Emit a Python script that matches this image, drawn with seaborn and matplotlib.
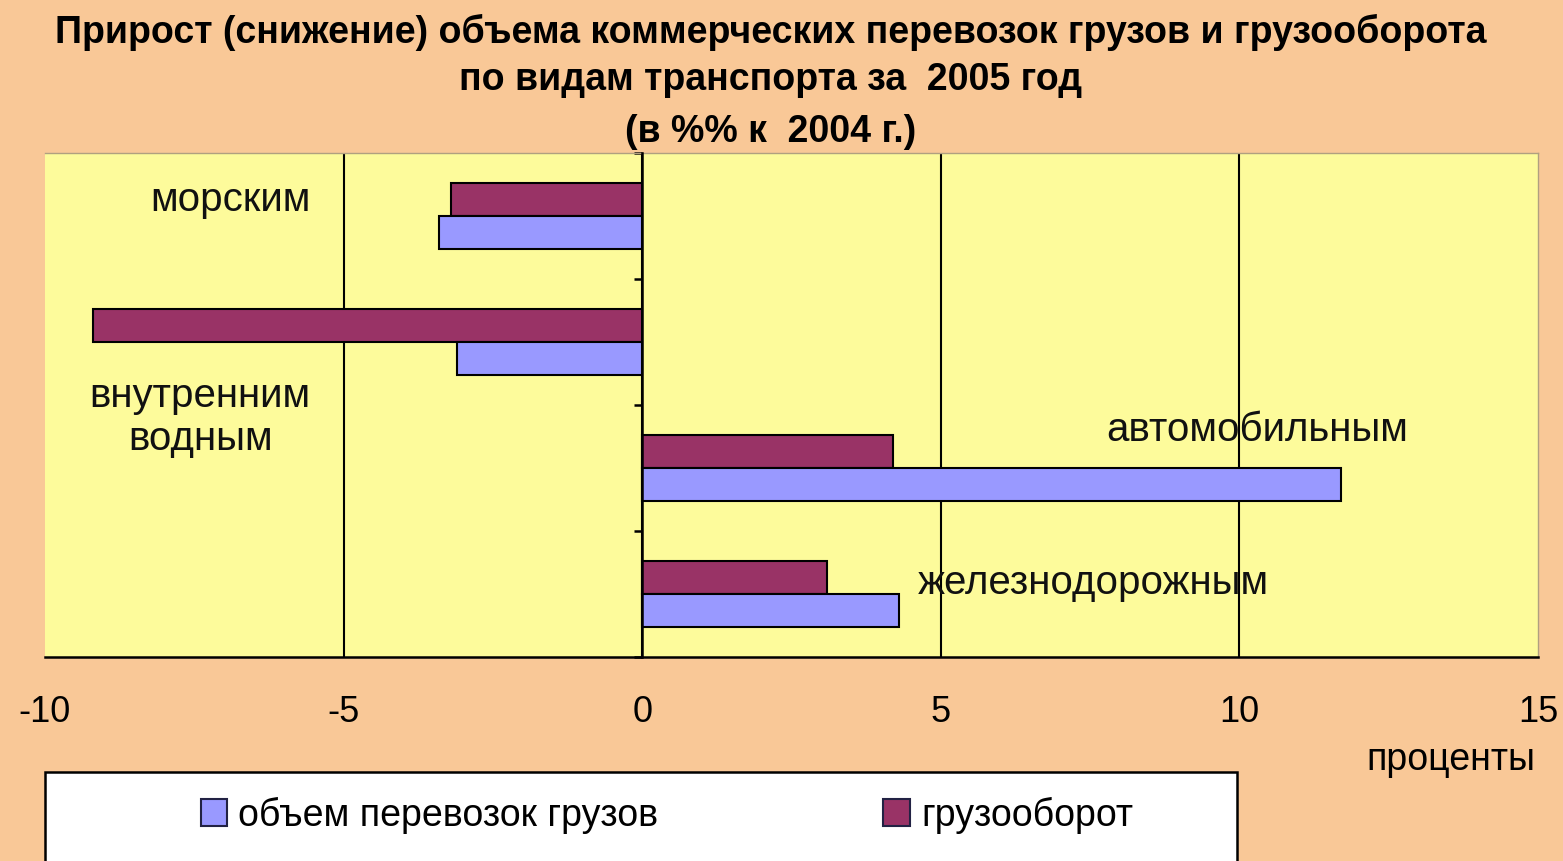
import pandas as pd
import matplotlib.pyplot as plt
import seaborn as sns
from matplotlib.patches import Patch, Rectangle

# Data (percent change 2005 vs 2004)
transport = ['морским', 'внутренним водным', 'автомобильным', 'железнодорожным']
volume = [-3.4, -3.1, 11.7, 4.3]      # объем перевозок грузов
turnover = [-3.2, -9.2, 4.2, 3.1]     # грузооборот
series_names = ['объем перевозок грузов', 'грузооборот']
xticks = [-10, -5, 0, 5, 10, 15]

colors = {'объем перевозок грузов': '#9999FF', 'грузооборот': '#993366'}
fig_bg = '#F9C897'
plot_bg = '#FDFB9B'

df = pd.DataFrame({
    'transport': transport * 2,
    'series': [series_names[0]] * 4 + [series_names[1]] * 4,
    'value': volume + turnover,
})

sns.set_style('white')
plt.rcParams['font.family'] = ['Liberation Sans', 'DejaVu Sans']
plt.rcParams['text.color'] = 'black'
plt.rcParams['xtick.color'] = 'black'
plt.rcParams['ytick.color'] = 'black'

fig = plt.figure(figsize=(15.63, 8.61), dpi=100, facecolor=fig_bg)
ax = fig.add_axes([45 / 1563, 1 - 657 / 861, (1538 - 45) / 1563, (657 - 153) / 861])
ax.set_facecolor(plot_bg)

sns.barplot(data=df, x='value', y='transport', hue='series',
            order=transport, hue_order=['грузооборот', 'объем перевозок грузов'],
            palette=colors, saturation=1, width=0.53, edgecolor='black', linewidth=1.5,
            legend=False, ax=ax, zorder=3)

ax.set_xlim(-10, 15)
ax.set_ylim(3.5, -0.5)
ax.set_xticks(xticks)
ax.set_xticklabels([str(t) for t in xticks], fontsize=26)
ax.set_yticks([-0.5, 0.5, 1.5, 2.5, 3.5])
ax.set_yticklabels([])
ax.set_xlabel('')
ax.set_ylabel('')

# vertical gridlines
ax.grid(axis='x', color='black', linewidth=1.5, zorder=1)
ax.grid(axis='y', visible=False)
gl = ax.get_xgridlines()
gl[0].set_visible(False)
gl[-1].set_visible(False)

ax.spines['left'].set_position(('data', 0))
ax.spines['left'].set_color('black')
ax.spines['left'].set_linewidth(1.8)
ax.spines['left'].set_zorder(4)
ax.spines['bottom'].set_color('black')
ax.spines['bottom'].set_linewidth(1.8)
for s in ['top', 'right']:
    ax.spines[s].set_color('#B0A080')
    ax.spines[s].set_linewidth(1)

ax.tick_params(axis='x', direction='out', length=9, width=1.8, pad=18, colors='black')
ax.tick_params(axis='y', direction='out', length=6, width=1.8, left=True, colors='black')

# category labels inside the plot
lab_kw = dict(fontsize=29, ha='center', va='center', color='#111111', zorder=5)
ax.text(-6.9, -0.13, 'морским', **lab_kw)
ax.text(-7.4, 1.6, 'внутренним\nводным', linespacing=1.15, **lab_kw)
ax.text(10.3, 1.7, 'автомобильным', **lab_kw)
ax.text(7.55, 2.91, 'железнодорожным', **lab_kw)

# title
title_kw = dict(fontsize=27, fontweight='bold', ha='center', va='center', color='black')
fig.text(771 / 1563, 1 - 32 / 861,
         'Прирост (снижение) объема коммерческих перевозок грузов и грузооборота', **title_kw)
fig.text(771 / 1563, 1 - 80 / 861, 'по видам транспорта за  2005 год', **title_kw)
fig.text(771 / 1563, 1 - 132 / 861, '(в %% к  2004 г.)', **title_kw)

fig.text(1535 / 1563, 1 - 760 / 861, 'проценты', fontsize=27, ha='right', va='center')

# legend box
fig.add_artist(Rectangle((45 / 1563, -0.05), (1237 - 45) / 1563, 0.05 + 1 - 772 / 861,
                         transform=fig.transFigure, facecolor='white',
                         edgecolor='black', linewidth=1.8))
handles = [Patch(facecolor=colors[n], edgecolor='#222244', linewidth=1.5, label=n)
           for n in series_names]
fig.legend(handles=handles, loc='center left', bbox_to_anchor=(182 / 1563, 1 - 815 / 861),
           ncol=2, frameon=False, fontsize=27, handlelength=0.7, handleheight=0.7,
           handletextpad=0.3, columnspacing=6.0, borderpad=0)

fig.savefig('out.png', dpi=100, facecolor=fig_bg)
